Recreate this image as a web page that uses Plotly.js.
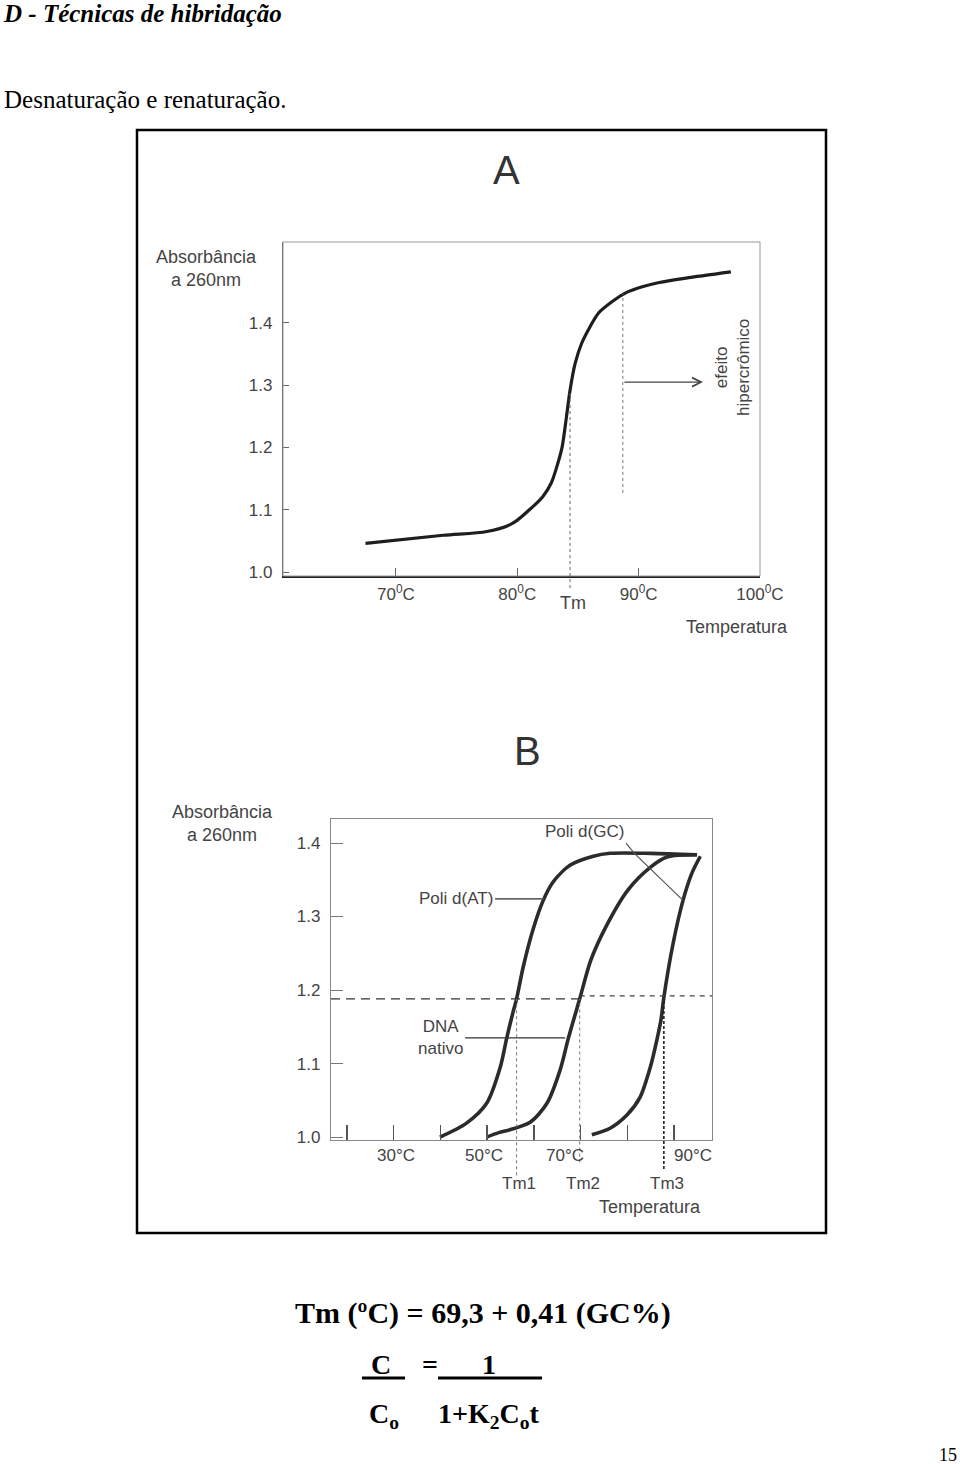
<!DOCTYPE html>
<html>
<head>
<meta charset="utf-8">
<script src="https://cdn.plot.ly/plotly-3.0.1.min.js"></script>
<style>
  html, body { margin: 0; padding: 0; background: #fff; }
  #chart { width: 960px; height: 1464px; }
</style>
</head>
<body>
<div id="chart"></div>
<script>
// ---- Chart A: single melting curve ----
const tempA = [67.5, 73.9, 77.5, 79.6, 81.0, 82.1, 82.8, 83.35, 83.7, 84.06, 84.35, 84.77, 85.3, 86.0, 86.7, 87.8, 88.9, 90.3, 91.7, 93.9, 97.6];
const absA  = [1.046, 1.059, 1.065, 1.078, 1.100, 1.121, 1.143, 1.175, 1.201, 1.250, 1.292, 1.335, 1.367, 1.394, 1.416, 1.434, 1.448, 1.458, 1.465, 1.472, 1.482];
const tickValsA = [70, 80, 90, 100];
const tickTextA = ['70<sup>0</sup>C', '80<sup>0</sup>C', '90<sup>0</sup>C', '100<sup>0</sup>C'];
const absTicks = [1.0, 1.1, 1.2, 1.3, 1.4];
const absTickText = ['1.0', '1.1', '1.2', '1.3', '1.4'];
const tmA = 84.35;
const tmAbsA = 1.292;
const effectT = 88.7;
const effectTop = 1.447;
const effectBottom = 1.127;
const arrowAbs = 1.305;
const arrowEndT = 95.3;

// ---- Chart B: three melting curves ----
const tempAT = [39.9, 45.6, 49.9, 52.8, 54.2, 55.5, 56.3, 57.7, 59.8, 62.0, 64.1, 67.8, 72.7, 76.3, 85.0, 94.9];
const absAT  = [1.000, 1.019, 1.046, 1.095, 1.135, 1.169, 1.188, 1.231, 1.282, 1.322, 1.347, 1.370, 1.382, 1.386, 1.386, 1.384];
const tempNat = [49.9, 52.5, 54.9, 59.2, 62.8, 65.6, 67.4, 69.8, 72.2, 75.4, 80.1, 84.9, 88.5, 94.9];
const absNat  = [1.000, 1.006, 1.010, 1.020, 1.046, 1.091, 1.135, 1.188, 1.241, 1.286, 1.336, 1.367, 1.381, 1.384];
const tempGC = [72.4, 76.3, 79.9, 82.7, 84.9, 86.3, 87.2, 87.8, 89.8, 91.9, 93.8, 95.6];
const absGC  = [1.003, 1.012, 1.030, 1.054, 1.095, 1.132, 1.160, 1.190, 1.264, 1.322, 1.359, 1.382];
const tickValsB = [20, 30, 40, 50, 60, 70, 80, 90];
const labelPosB = [30.6, 49.3, 66.6, 94.0];
const labelTextB = ['30°C', '50°C', '70°C', '90°C'];
const tmB = [56.3, 69.8, 87.8];
const tmTextB = ['Tm1', 'Tm2', 'Tm3'];
const halfAbs = 1.188;
const atPointer = {t: [51.7, 62.0], a: [1.324, 1.324]};
const gcPointer = {t: [79.7, 81.5, 91.9], a: [1.400, 1.386, 1.322]};
const natPointer = {t: [45.3, 66.7], a: [1.135, 1.135]};

const W = 960, H = 1464;
const px = p => p / W;
const py = p => 1 - p / H;

const rangeAx = [60.7, 100.0], rangeAy = [0.9936, 1.530];
const rangeBx = [16.6, 98.1], rangeBy = [0.996, 1.4327];
const yDomA = v => (v - rangeAy[0]) / (rangeAy[1] - rangeAy[0]);
const yDomB = v => (v - rangeBy[0]) / (rangeBy[1] - rangeBy[0]);

const ink = '#1e1e1e';
const txt = '#444';
const sans = 'Liberation Sans, Arial, sans-serif';
const serif = 'Liberation Serif, Times New Roman, serif';

const traces = [
  {x: tempA, y: absA, xaxis: 'x', yaxis: 'y', mode: 'lines', line: {color: ink, width: 3.2, shape: 'spline', smoothing: 0.8}, hoverinfo: 'skip'},
  {x: tempAT, y: absAT, xaxis: 'x2', yaxis: 'y2', mode: 'lines', line: {color: '#2b2b2b', width: 3.6, shape: 'spline', smoothing: 0.8}, hoverinfo: 'skip'},
  {x: tempNat, y: absNat, xaxis: 'x2', yaxis: 'y2', mode: 'lines', line: {color: '#2b2b2b', width: 3.6, shape: 'spline', smoothing: 0.8}, hoverinfo: 'skip'},
  {x: tempGC, y: absGC, xaxis: 'x2', yaxis: 'y2', mode: 'lines', line: {color: '#2b2b2b', width: 3.6, shape: 'spline', smoothing: 0.8}, hoverinfo: 'skip'},
  {x: gcPointer.t, y: gcPointer.a, xaxis: 'x2', yaxis: 'y2', mode: 'lines', line: {color: '#555', width: 1.2}, hoverinfo: 'skip'},
  {x: atPointer.t, y: atPointer.a, xaxis: 'x2', yaxis: 'y2', mode: 'lines', line: {color: '#666', width: 1.6}, hoverinfo: 'skip'},
  {x: natPointer.t, y: natPointer.a, xaxis: 'x2', yaxis: 'y2', mode: 'lines', line: {color: '#333', width: 1.2}, hoverinfo: 'skip'}
];

const shapes = [
  // outer frame
  {type: 'rect', xref: 'paper', yref: 'paper', x0: px(137), x1: px(826), y0: py(1233), y1: py(130), line: {color: '#000', width: 2.5}},
  // light top/right border of chart A
  {type: 'rect', xref: 'x domain', yref: 'y domain', x0: 0, x1: 1, y0: 0, y1: 1, line: {color: '#999', width: 1}},
  // Tm line A
  {type: 'line', xref: 'x', yref: 'y domain', x0: tmA, x1: tmA, y0: -0.036, y1: yDomA(tmAbsA), line: {color: '#666', width: 1, dash: 'dot'}},
  // hyperchromic marker line
  {type: 'line', xref: 'x', yref: 'y', x0: effectT, x1: effectT, y0: effectBottom, y1: effectTop, line: {color: '#777', width: 1, dash: 'dot'}},
  // half-denaturation level B
  {type: 'line', xref: 'x2', yref: 'y2', x0: rangeBx[0], x1: tmB[1], y0: halfAbs, y1: halfAbs, line: {color: '#333', width: 1.3, dash: '9px,6px'}},
  {type: 'line', xref: 'x2', yref: 'y2', x0: tmB[1], x1: rangeBx[1], y0: halfAbs + 0.004, y1: halfAbs + 0.004, line: {color: '#444', width: 1.2, dash: '5px,5px'}}
];
tmB.forEach((t, i) => {
  shapes.push({type: 'line', xref: 'x2', yref: 'y2 domain', x0: t, x1: t,
    y0: i === 0 ? -0.11 : (i === 1 ? -0.07 : -0.09), y1: yDomB(halfAbs),
    line: {color: i === 2 ? '#222' : '#777', width: i === 2 ? 1.6 : 1, dash: i === 2 ? '3px,2px' : '3px,3px'}});
});
// formula underlines
shapes.push({type: 'line', xref: 'paper', yref: 'paper', x0: px(362), x1: px(405), y0: py(1378), y1: py(1378), line: {color: '#000', width: 3}});
shapes.push({type: 'line', xref: 'paper', yref: 'paper', x0: px(438), x1: px(542), y0: py(1378), y1: py(1378), line: {color: '#000', width: 3}});

const lab = (text, x, y, size, extra) => Object.assign({
  text, xref: 'paper', yref: 'paper', x: px(x), y: py(y), xanchor: 'center', yanchor: 'middle', showarrow: false,
  font: {family: sans, size: size, color: txt}
}, extra || {});
const serifFont = size => ({family: serif, size: size, color: '#000'});

const annotations = [
  // page text
  lab('<b><i>D - Técnicas de hibridação</i></b>', 1, 13, 25, {xanchor: 'left', font: serifFont(25)}),
  lab('Desnaturação e renaturação.', 2, 100, 25, {xanchor: 'left', font: serifFont(25)}),
  // chart A
  lab('A', 506, 170, 40, {font: {family: sans, size: 40, color: '#333'}}),
  lab('Absorbância<br>a 260nm', 206, 268, 18),
  lab('Temperatura', 737, 627, 18),
  lab('Tm', 573, 603, 18),
  lab('efeito<br>hipercrômico', 732, 368, 17, {textangle: -90}),
  {text: '', xref: 'x', yref: 'y', axref: 'x', ayref: 'y', x: arrowEndT, y: arrowAbs, ax: effectT, ay: arrowAbs,
    showarrow: true, arrowhead: 5, arrowsize: 1.6, arrowwidth: 1.1, arrowcolor: '#444'},
  // chart B
  lab('B', 527, 751, 40, {font: {family: sans, size: 40, color: '#333'}}),
  lab('Absorbância<br>a 260nm', 222, 823, 18),
  lab('Temperatura', 650, 1207, 18),
  {text: 'Poli d(AT)', xref: 'x2', yref: 'y2', x: atPointer.t[0], y: atPointer.a[0], xanchor: 'right', yanchor: 'middle', showarrow: false,
    font: {family: sans, size: 17, color: txt}},
  {text: 'Poli d(GC)', xref: 'x2', yref: 'y2', x: gcPointer.t[0], y: gcPointer.a[0], xanchor: 'right', yanchor: 'bottom', showarrow: false,
    font: {family: sans, size: 17, color: txt}},
  {text: 'DNA<br>nativo', xref: 'x2', yref: 'y2', x: natPointer.t[0], y: natPointer.a[0], xanchor: 'right', yanchor: 'middle', showarrow: false,
    font: {family: sans, size: 17, color: txt}},
  // formula
  lab('<b>Tm (ºC) = 69,3 + 0,41 (GC%)</b>', 483, 1313, 30, {font: serifFont(30)}),
  lab('<b>C</b>', 381, 1364, 28, {font: serifFont(28)}),
  lab('<b>=</b>', 430, 1364, 28, {font: serifFont(28)}),
  lab('<b>1</b>', 489, 1364, 28, {font: serifFont(28)}),
  lab('<b>C<sub>o</sub></b>', 384, 1415, 28, {font: serifFont(28)}),
  lab('<b>1+K<sub>2</sub>C<sub>o</sub>t</b>', 489, 1415, 28, {font: serifFont(28)}),
  lab('15', 948, 1455, 18, {font: serifFont(18)})
];
labelPosB.forEach((t, i) => {
  annotations.push({text: labelTextB[i], xref: 'x2', yref: 'paper', x: t, y: py(1155), xanchor: 'center', yanchor: 'middle', showarrow: false,
    font: {family: sans, size: 17, color: txt}});
});
tmB.forEach((t, i) => {
  annotations.push({text: tmTextB[i], xref: 'x2', yref: 'paper', x: t + 0.6, y: py(1183), xanchor: 'center', yanchor: 'middle', showarrow: false,
    font: {family: sans, size: 17, color: txt}});
});

const tickFont = {family: sans, size: 17, color: txt};

const layout = {
  width: W, height: H,
  margin: {l: 0, r: 0, t: 0, b: 0},
  paper_bgcolor: '#fff', plot_bgcolor: 'rgba(0,0,0,0)',
  showlegend: false,
  xaxis: {domain: [px(283), px(760)], range: rangeAx, anchor: 'y', tickvals: tickValsA, ticktext: tickTextA,
    ticks: 'inside', ticklen: 8, tickcolor: '#666', showline: true, linecolor: '#222', linewidth: 1.6,
    showgrid: false, zeroline: false, tickfont: tickFont, ticklabelstandoff: 2},
  yaxis: {domain: [py(576), py(242)], range: rangeAy, anchor: 'x', tickvals: absTicks, ticktext: absTickText,
    ticks: 'inside', ticklen: 6, tickcolor: '#666', showline: true, linecolor: '#555', linewidth: 1.2,
    showgrid: false, zeroline: false, tickfont: tickFont, ticklabelstandoff: 6},
  xaxis2: {domain: [px(331), px(712)], range: rangeBx, anchor: 'y2', tickvals: tickValsB, showticklabels: false,
    ticks: 'inside', ticklen: 15, tickcolor: '#555', tickwidth: 1.3, showline: true, mirror: true, linecolor: '#888', linewidth: 1.2,
    showgrid: false, zeroline: false},
  yaxis2: {domain: [py(1140), py(819)], range: rangeBy, anchor: 'x2', tickvals: absTicks, ticktext: absTickText,
    ticks: 'inside', ticklen: 12, tickcolor: '#777', showline: true, mirror: true, linecolor: '#888', linewidth: 1.2,
    showgrid: false, zeroline: false, tickfont: tickFont, ticklabelstandoff: 6},
  shapes: shapes,
  annotations: annotations
};

Plotly.newPlot('chart', traces, layout, {staticPlot: true});
</script>
</body>
</html>
